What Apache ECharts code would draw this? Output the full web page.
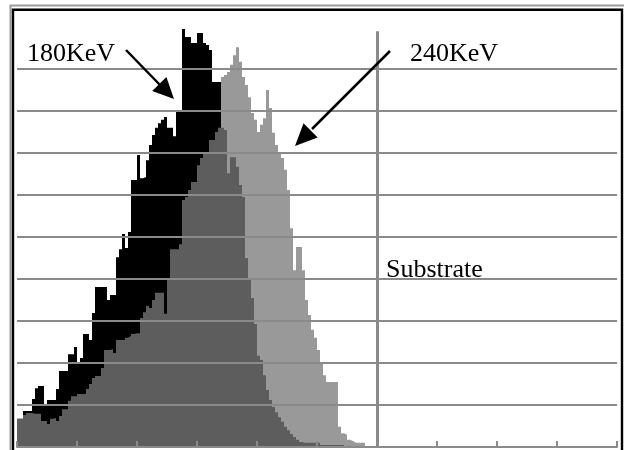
<!DOCTYPE html>
<html>
<head>
<meta charset="utf-8">
<script src="https://cdn.jsdelivr.net/npm/echarts/dist/echarts.min.js"></script>
<style>
html,body{margin:0;padding:0;background:#fff;}
#chart{width:624px;height:450px;}
</style>
</head>
<body>
<div id="chart"></div>
<script>
// Depth bins (index 0..200) and relative concentration (gridline = 100)
const profile180 = [
  67,67,86,86,86, 114,140,145,145,102, 112,112,112,138,181, 181,181,221,221,238,
  202,212,269,269,255, 319,381,381,381,381, 350,362,362,452,471, 507,474,512,636,636,
  695,640,643,683,719, 743,760,771,779,786, 760,760,740,802,802, 995,976,976,962,962,
  986,986,962,957,945, 869,869,869,760,755, 652,690,690,667,624, 595,450,400,355,293,
  217,207,171,136,112, 95,83,71,60,48, 40,31,24,17,12, 10,10,10,10,10,
  10,5,5,5,5, 5,5,5,5,0
];
const profile240 = [
  67,67,76,81,81, 79,79,79,62,62, 55,67,69,62,74, 90,90,110,121,121,
  126,126,126,138,150, 164,169,169,188,231, 231,233,224,255,255, 255,260,264,269,271,
  271,307,321,336,331, 350,367,367,367,317, 400,471,471,471,483, 588,595,612,631,631,
  671,688,700,700,731, 731,750,760,881,886, 893,910,933,952,917, 881,862,833,795,779,
  750,767,783,850,807, 748,719,700,688,660, 612,521,421,476,476, 421,350,314,279,260,
  231,200,171,155,155, 155,155,48,33,29, 17,14,10,10,10, 10,0
];
const seriesNames = ['180KeV', '240KeV'];
const substrateDepth = 120;
const substrateLabel = 'Substrate';
const xMax = 200, xStep = 20;
const yMax = 1000, yStep = 100;

const chart = echarts.init(document.getElementById('chart'), null, {renderer: 'canvas'});
const toPairs = arr => arr.map((v, i) => [i, v]);
const gridColor = '#8a8a8a';
const serif = '"Liberation Serif", "Times New Roman", serif';

chart.setOption({
  backgroundColor: '#ffffff',
  animation: false,
  grid: {left: 17, right: 7, top: 27, bottom: 3, containLabel: false, outerBoundsMode: 'none'},
  xAxis: {
    type: 'value', min: 0, max: xMax, interval: xStep, z: 5,
    axisLine: {show: true, onZero: false, lineStyle: {color: gridColor, width: 2}},
    axisTick: {show: true, inside: true, length: 6, lineStyle: {color: gridColor, width: 2}},
    axisLabel: {show: false},
    splitLine: {show: false}
  },
  yAxis: {
    type: 'value', min: 0, max: yMax, interval: yStep, z: 5,
    axisLine: {show: false}, axisTick: {show: false}, axisLabel: {show: false},
    splitLine: {show: true, showMinLine: false, showMaxLine: false, lineStyle: {color: gridColor, width: 2}}
  },
  series: [
    {
      name: seriesNames[0], type: 'line', step: 'end', silent: true,
      data: toPairs(profile180), showSymbol: false, symbol: 'none', z: 2,
      lineStyle: {width: 0, opacity: 0},
      areaStyle: {color: '#000000', opacity: 1}
    },
    {
      name: seriesNames[1], type: 'line', step: 'end', silent: true,
      data: toPairs(profile240), showSymbol: false, symbol: 'none', z: 3,
      lineStyle: {width: 0, opacity: 0},
      areaStyle: {color: 'rgb(122,122,122)', opacity: 0.765},
      markLine: {
        silent: true, symbol: ['none', 'none'], animation: false,
        label: {show: false},
        lineStyle: {color: gridColor, width: 3, type: 'solid', opacity: 1},
        data: [[{coord: [substrateDepth, 990]}, {coord: [substrateDepth, 0]}]]
      }
    }
  ],
  graphic: [
    {type: 'polyline', z: 10, silent: true,
     shape: {points: [[10.5, 460], [10.5, 5.5], [624, 5.5]]},
     style: {stroke: '#9a9a9a', lineWidth: 2, fill: null}},
    {type: 'rect', z: 10, silent: true,
     shape: {x: 13, y: 9.7, width: 609, height: 460},
     style: {stroke: '#000', lineWidth: 2.4, fill: null}},
    {type: 'text', z: 10, silent: true, x: 27, y: 54,
     style: {text: seriesNames[0], font: '26px ' + serif, fill: '#000', verticalAlign: 'middle'}},
    {type: 'text', z: 10, silent: true, x: 410, y: 54,
     style: {text: seriesNames[1], font: '26px ' + serif, fill: '#000', verticalAlign: 'middle'}},
    {type: 'text', z: 10, silent: true, x: 386, y: 270,
     style: {text: substrateLabel, font: '26px ' + serif, fill: '#000', verticalAlign: 'middle'}},
    {type: 'line', z: 10, silent: true,
     shape: {x1: 126, y1: 50, x2: 161, y2: 86},
     style: {stroke: '#000', lineWidth: 2.5}},
    {type: 'polygon', z: 10, silent: true,
     shape: {points: [[174, 99], [152.2, 91], [166.4, 77]]},
     style: {fill: '#000'}},
    {type: 'line', z: 10, silent: true,
     shape: {x1: 390, y1: 51, x2: 312, y2: 129},
     style: {stroke: '#000', lineWidth: 2.5}},
    {type: 'polygon', z: 10, silent: true,
     shape: {points: [[295, 146], [317.7, 137.5], [303.5, 123.3]]},
     style: {fill: '#000'}}
  ]
});
</script>
</body>
</html>
